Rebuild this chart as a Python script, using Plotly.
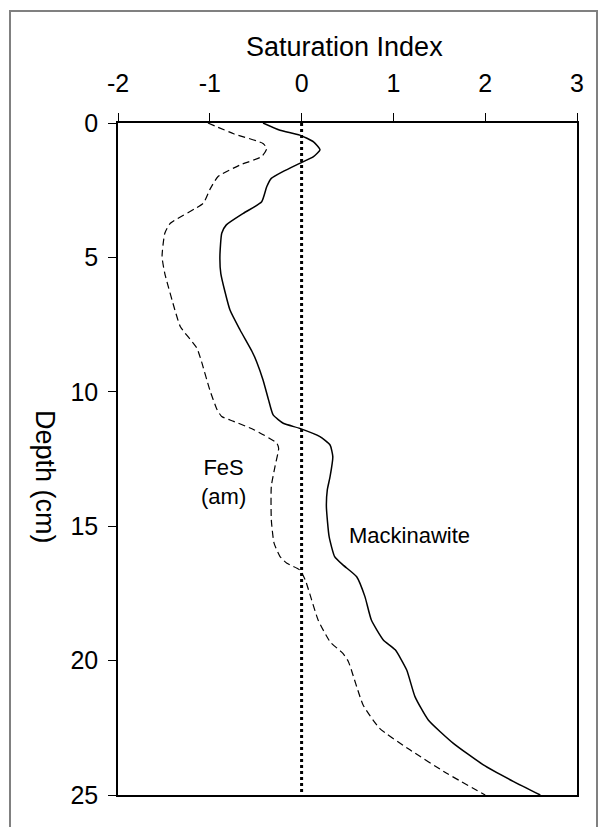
import plotly.graph_objects as go

# Mackinawite (solid)
mack_depth = [0, 0.27, 0.45, 0.7, 1.0, 1.25, 1.5, 1.8, 2.06, 2.37, 2.93, 3.36, 3.79, 4.1, 4.97, 5.6,
              6.96, 7.7, 8.5, 8.88, 9.56, 10.3, 10.86, 11.17, 11.36, 11.67, 11.98, 12.41, 13.16, 13.65,
              14.27, 15.39, 16.13, 16.44, 16.88, 17.62, 18.49, 19.23, 19.6, 20.35, 21.34, 22.21, 23.07,
              23.88, 24.5, 25]
mack_si = [-0.42, -0.235, -0.02, 0.13, 0.2, 0.13, -0.02, -0.2, -0.33, -0.38, -0.435, -0.635, -0.82,
           -0.87, -0.89, -0.88, -0.78, -0.67, -0.54, -0.49, -0.42, -0.36, -0.31, -0.2, -0.02, 0.2, 0.31,
           0.34, 0.31, 0.28, 0.27, 0.30, 0.36, 0.45, 0.6, 0.69, 0.76, 0.89, 1.02, 1.145, 1.235, 1.38,
           1.65, 1.98, 2.31, 2.6]

# FeS (am) (dashed)
fes_depth = [0, 0.4, 0.76, 0.95, 1.25, 1.56, 1.99, 2.48, 2.98, 3.73, 4.1, 4.97, 5.6, 6.96, 7.58, 8.38,
             8.88, 9.93, 10.67, 10.92, 11.1, 11.41, 11.91, 12.1, 12.78, 13.52, 14.76, 15.63, 16.13,
             16.38, 16.63, 17.0, 17.75, 18.49, 19.3, 19.73, 20.04, 21.65, 22.52, 23.32, 24.19, 25]
fes_si = [-1.02, -0.74, -0.42, -0.38, -0.435, -0.67, -0.91, -1.0, -1.07, -1.43, -1.49, -1.52, -1.49,
          -1.38, -1.32, -1.14, -1.09, -1.0, -0.92, -0.87, -0.74, -0.52, -0.27, -0.25, -0.29, -0.33,
          -0.33, -0.30, -0.235, -0.16, -0.02, 0.04, 0.11, 0.18, 0.31, 0.45, 0.51, 0.67, 0.85, 1.18,
          1.58, 2.0]

x_ticks = [-2, -1, 0, 1, 2, 3]
y_ticks = [0, 5, 10, 15, 20, 25]

FONT = "Liberation Sans, Arial, sans-serif"

fig = go.Figure()
fig.add_trace(go.Scatter(x=fes_si, y=fes_depth, mode="lines",
                         line=dict(color="black", width=1.2, dash="7px,4px", shape="spline", smoothing=0.5),
                         showlegend=False))
fig.add_trace(go.Scatter(x=mack_si, y=mack_depth, mode="lines",
                         line=dict(color="black", width=1.5, shape="spline", smoothing=0.5),
                         showlegend=False))

# saturation = 0 reference line
fig.add_shape(type="line", xref="x", yref="y", x0=0, x1=0, y0=0, y1=25,
              line=dict(color="black", width=3, dash="dot"))

# outer figure border
fig.add_shape(type="rect", xref="paper", yref="paper",
              x0=(10 - 118) / 459, x1=(597 - 118) / 459,
              y0=(795 - 840) / 672, y1=(795 - 11) / 672,
              line=dict(color="#808080", width=2), layer="below")

fig.add_annotation(text="Saturation Index", xref="paper", yref="paper",
                   x=(344 - 118) / 459, y=(795 - 47) / 672, showarrow=False,
                   xanchor="center", yanchor="middle",
                   font=dict(family=FONT, size=27, color="black"))
fig.add_annotation(text="Depth (cm)", xref="paper", yref="paper",
                   x=(45 - 118) / 459, y=(795 - 477) / 672, showarrow=False, textangle=90,
                   xanchor="center", yanchor="middle",
                   font=dict(family=FONT, size=27, color="black"))
fig.add_annotation(text="FeS<br>(am)", xref="x", yref="y", x=-0.856, y=13.36, showarrow=False,
                   xanchor="center", yanchor="middle",
                   font=dict(family=FONT, size=22, color="black"))
fig.add_annotation(text="Mackinawite", xref="x", yref="y", x=1.18, y=15.36, showarrow=False,
                   xanchor="center", yanchor="middle",
                   font=dict(family=FONT, size=22, color="black"))

fig.update_layout(
    width=605, height=827,
    margin=dict(l=118, r=28, t=123, b=32, pad=0),
    paper_bgcolor="white", plot_bgcolor="white",
    font=dict(family=FONT, size=25, color="black"),
    xaxis=dict(side="top", range=[-2, 3], tickvals=x_ticks, ticktext=[str(v) for v in x_ticks],
               ticks="outside", ticklen=8, tickcolor="black", showline=True, linecolor="black",
               linewidth=1.5, mirror=True, showgrid=False, zeroline=False, ticklabelstandoff=11,
               tickfont=dict(family=FONT, size=25)),
    yaxis=dict(range=[25, 0], tickvals=y_ticks, ticktext=[str(v) for v in y_ticks],
               ticks="outside", ticklen=8, tickcolor="black", showline=True, linecolor="black",
               linewidth=1.5, mirror=True, showgrid=False, zeroline=False, ticklabelstandoff=5,
               tickfont=dict(family=FONT, size=25)),
)

fig.write_html("out.html")
